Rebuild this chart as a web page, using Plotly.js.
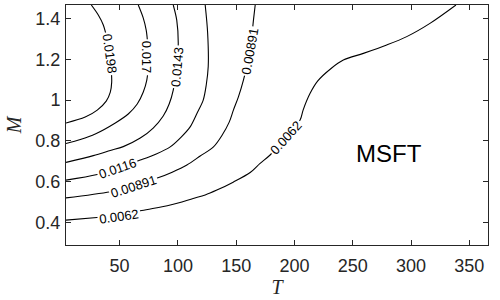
<!DOCTYPE html>
<html>
<head>
<meta charset="utf-8">
<script src="https://cdn.plot.ly/plotly-3.0.1.min.js"></script>
<style>html,body{margin:0;padding:0;background:#fff;}#chart{width:500px;height:300px;}</style>
</head>
<body>
<div id="chart"></div>
<script>
// Contour lines of the MSFT surface (T in days, M moneyness)
const levels = ['0.0062', '0.00891', '0.0116', '0.0143', '0.017', '0.0198'];

const T_0062 = [4, 30.6, 48.8, 69.1, 93.4, 113.1, 123.4, 133.4, 147.4, 162.0, 170.5, 179.1, 192.8, 204.8, 207.4, 213.4, 220.0, 231.4, 241.9, 259.1, 279.1, 296.3, 316.2, 338.5];
const M_0062 = [0.412, 0.425, 0.434, 0.459, 0.486, 0.518, 0.535, 0.559, 0.598, 0.645, 0.690, 0.731, 0.819, 0.902, 0.951, 1.033, 1.094, 1.155, 1.196, 1.229, 1.270, 1.311, 1.376, 1.466];

const T_00891 = [4, 42.0, 61.7, 82.3, 95.1, 107.7, 119.1, 130.5, 138.0, 144.0, 147.6, 151.9, 156.2, 162.0, 164.8, 166.3];
const M_00891 = [0.521, 0.551, 0.579, 0.618, 0.647, 0.682, 0.726, 0.771, 0.829, 0.892, 0.951, 1.016, 1.098, 1.245, 1.392, 1.466];

const T_0116 = [4, 30.8, 48.0, 67.7, 81.4, 93.4, 102.8, 110.5, 116.5, 121.7, 124.3, 126.0, 125.5, 123.4];
const M_0116 = [0.608, 0.635, 0.667, 0.706, 0.736, 0.771, 0.819, 0.869, 0.937, 1.000, 1.074, 1.164, 1.329, 1.466];

const T_0143 = [4, 27.4, 42.0, 53.1, 67.7, 78.8, 87.4, 92.5, 96.0, 97.7, 99.4, 100.3, 99.0, 96.0];
const M_0143 = [0.695, 0.728, 0.753, 0.772, 0.814, 0.863, 0.922, 0.981, 1.049, 1.123, 1.196, 1.280, 1.392, 1.466];

const T_017 = [4, 16.3, 29.1, 46.3, 57.4, 65.1, 70.3, 73.3, 74.5, 74.1, 72.8, 70.3, 66.0];
const M_017 = [0.787, 0.807, 0.834, 0.888, 0.932, 0.981, 1.040, 1.098, 1.172, 1.270, 1.343, 1.402, 1.466];

const T_0198 = [4, 20.5, 30.8, 38.5, 42.0, 43.2, 42.8, 41.5, 39.4, 36.0, 31.7, 25.7];
const M_0198 = [0.888, 0.917, 0.951, 0.995, 1.039, 1.088, 1.147, 1.221, 1.294, 1.368, 1.417, 1.466];

// In-line contour labels
const labelText = ['0.0198', '0.017', '0.0143', '0.00891', '0.0062', '0.0116', '0.00891', '0.0062'];
const labelT = [41.1, 73.7, 99.0, 161.5, 192.8, 48.0, 61.9, 49.3];
const labelM = [1.226, 1.211, 1.162, 1.240, 0.816, 0.667, 0.577, 0.432];
const labelAngle = [82, 90, -85, -80, -48, -19, -18, -8];

const xTicks = [50, 100, 150, 200, 250, 300, 350];
const yTicks = [0.4, 0.6, 0.8, 1, 1.2, 1.4];
const yTickText = ['0.4', '0.6', '0.8', '1', '1.2', '1.4'];

const lineSets = [[T_0062, M_0062], [T_00891, M_00891], [T_0116, M_0116], [T_0143, M_0143], [T_017, M_017], [T_0198, M_0198]];

const traces = lineSets.map((s, i) => ({
  type: 'scatter', mode: 'lines', x: s[0], y: s[1], name: levels[i],
  line: {color: '#000000', width: 1.1, shape: 'spline', smoothing: 0.9},
  hoverinfo: 'skip', showlegend: false
}));

const annotations = labelText.map((t, i) => ({
  x: labelT[i], y: labelM[i], xref: 'x', yref: 'y', text: t, showarrow: false,
  textangle: labelAngle[i], bgcolor: '#ffffff', borderpad: 1,
  font: {family: 'Liberation Sans, Arial, sans-serif', size: 13, color: '#000000'}
}));
annotations.push({
  x: 280.7, y: 0.737, xref: 'x', yref: 'y', text: 'MSFT', showarrow: false,
  font: {family: 'Liberation Sans, Arial, sans-serif', size: 24, color: '#000000'}
});

const axisCommon = {
  showline: true, mirror: 'ticks', linecolor: '#262626', linewidth: 1,
  ticks: 'inside', ticklen: 5, tickwidth: 1, tickcolor: '#262626',
  showgrid: false, zeroline: false,
  tickfont: {family: 'Liberation Sans, Arial, sans-serif', size: 18, color: '#262626'}
};

const layout = {
  width: 500, height: 300,
  margin: {l: 66, r: 12, t: 5, b: 55},
  paper_bgcolor: '#ffffff', plot_bgcolor: '#ffffff',
  showlegend: false,
  xaxis: Object.assign({}, axisCommon, {
    range: [4, 366], tickvals: xTicks, ticktext: xTicks.map(String),
    ticklabelstandoff: 4,
    title: {text: 'T', standoff: 5, font: {family: 'Liberation Serif, DejaVu Serif, serif', size: 20, color: '#262626', style: 'italic'}}
  }),
  yaxis: Object.assign({}, axisCommon, {
    range: [0.29, 1.466], tickvals: yTicks, ticktext: yTickText,
    ticklabelstandoff: 1,
    title: {text: 'M', standoff: 8, font: {family: 'Liberation Serif, DejaVu Serif, serif', size: 20, color: '#262626', style: 'italic'}}
  }),
  annotations: annotations
};

Plotly.newPlot('chart', traces, layout, {staticPlot: true, displayModeBar: false});
</script>
</body>
</html>
